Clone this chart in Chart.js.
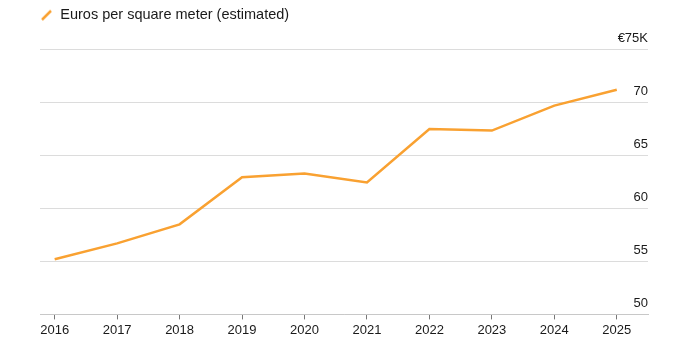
<!DOCTYPE html>
<html>
<head>
<meta charset="utf-8">
<script src="https://cdn.jsdelivr.net/npm/chart.js@4/dist/chart.umd.min.js"></script>
<style>
  html, body { margin: 0; padding: 0; background: #fff; }
  #wrap { width: 693px; height: 352px; }
</style>
</head>
<body>
<div id="wrap"><canvas id="priceChart" width="693" height="352"></canvas></div>
<script>
// price per square meter, thousands of euros
const years = [2016, 2017, 2018, 2019, 2020, 2021, 2022, 2023, 2024, 2025];
const pricePerSqm = [55.2, 56.7, 58.5, 62.95, 63.3, 62.45, 67.5, 67.35, 69.7, 71.2];
const yTicks = [50, 55, 60, 65, 70, 75];
const seriesLabel = 'Euros per square meter (estimated)';

const lineColor = '#f9a131';
const textColor = '#1a1a1a';
const fontFamily = "'Liberation Sans', Arial, Helvetica, sans-serif";

// little slash used as the legend marker
function makeSlashIcon() {
    const c = document.createElement('canvas');
    c.width = 13;
    c.height = 13;
    const g = c.getContext('2d');
    g.strokeStyle = lineColor;
    g.lineWidth = 2.5;
    g.beginPath();
    g.moveTo(2, 11);
    g.lineTo(11, 2);
    g.stroke();
    return c;
}

// push the plot down a bit below the legend
const legendGap = {
    id: 'legendGap',
    beforeInit(chart) {
        const fit = chart.legend.fit;
        chart.legend.fit = function () {
            fit.bind(chart.legend)();
            this.height += 17;
        };
    }
};

const ctx = document.getElementById('priceChart');

new Chart(ctx, {
    type: 'line',
    data: {
        datasets: [{
            label: seriesLabel,
            data: years.map((y, i) => ({ x: y, y: pricePerSqm[i] })),
            borderColor: lineColor,
            backgroundColor: lineColor,
            borderWidth: 2.5,
            pointRadius: 0,
            tension: 0,
            pointStyle: makeSlashIcon()
        }]
    },
    options: {
        responsive: false,
        animation: false,
        layout: {
            padding: { left: 40, right: 45, top: 8, bottom: 11 }
        },
        plugins: {
            legend: {
                position: 'top',
                align: 'start',
                labels: {
                    usePointStyle: true,
                    boxWidth: 13,
                    boxHeight: 13,
                    padding: 0,
                    color: textColor,
                    font: { family: fontFamily, size: 14.5 }
                }
            },
            tooltip: { enabled: false }
        },
        scales: {
            x: {
                type: 'linear',
                min: 2015.765,
                max: 2025.5,
                afterBuildTicks: (axis) => {
                    axis.ticks = years.map(v => ({ value: v }));
                },
                grid: {
                    drawOnChartArea: false,
                    color: '#777',
                    tickLength: 5
                },
                border: { color: '#c8c8c8' },
                ticks: {
                    color: textColor,
                    padding: 3,
                    maxRotation: 0,
                    font: { family: fontFamily, size: 13 },
                    callback: (v) => String(v)
                }
            },
            y: {
                position: 'right',
                min: 50,
                max: 75,
                afterBuildTicks: (axis) => {
                    axis.ticks = yTicks.map(v => ({ value: v }));
                },
                grid: {
                    color: '#dcdcdc',
                    drawTicks: false
                },
                border: { display: false },
                ticks: {
                    mirror: true,
                    padding: 0,
                    labelOffset: -11,
                    color: textColor,
                    font: { family: fontFamily, size: 13 },
                    callback: (v) => v === 75 ? '€75K' : String(v)
                }
            }
        }
    },
    plugins: [legendGap]
});
</script>
</body>
</html>
